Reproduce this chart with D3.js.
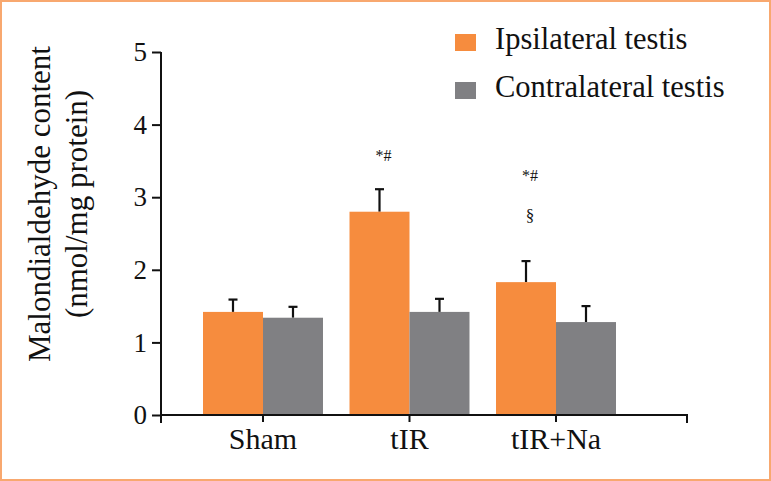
<!DOCTYPE html>
<html><head><meta charset="utf-8">
<script src="https://cdn.jsdelivr.net/npm/d3@7"></script>
<style>
html,body{margin:0;padding:0;background:#fff;}
svg{display:block;}
text{font-family:"Liberation Serif","Times New Roman",serif;fill:#111;}
</style></head>
<body>
<svg id="chart" width="771" height="481"></svg>
<script>
const categories = ["Sham", "tIR", "tIR+Na"];
const seriesNames = ["Ipsilateral testis", "Contralateral testis"];
const ipsilateral = [1.42, 2.80, 1.83];
const ipsilateralErr = [0.17, 0.31, 0.29];
const contralateral = [1.34, 1.42, 1.28];
const contralateralErr = [0.15, 0.18, 0.22];
const yTicks = [0, 1, 2, 3, 4, 5];
const annotations = [
  {cat: "tIR", series: 0, label: "*#", y: 3.55},
  {cat: "tIR+Na", series: 0, label: "*#", y: 3.28},
  {cat: "tIR+Na", series: 0, label: "§", y: 2.72}
];
const colors = ["#F68C3E", "#808083"];

const svg = d3.select("#chart");
// border
svg.append("rect").attr("x",1).attr("y",1).attr("width",769).attr("height",479)
  .attr("fill","#fff").attr("stroke","#F8A86F").attr("stroke-width",2);

const y = d3.scaleLinear().domain([0,5]).range([415,52]);
const x = d3.scaleBand().domain(categories).range([203,616]).paddingInner(0.181).paddingOuter(0);
const xs = d3.scaleBand().domain(seriesNames).range([0, x.bandwidth()]);

const data = categories.map((c,i)=>({cat:c, vals:[
  {s:seriesNames[0], v:ipsilateral[i], e:ipsilateralErr[i], k:0},
  {s:seriesNames[1], v:contralateral[i], e:contralateralErr[i], k:1}
]}));

const g = svg.append("g");
const groups = g.selectAll(".grp").data(data).join("g").attr("transform",d=>`translate(${x(d.cat)},0)`);
// error bars
groups.selectAll(".err").data(d=>d.vals).join("g").each(function(d){
  const cx = xs(d.s)+xs.bandwidth()/2;
  const sel = d3.select(this);
  sel.append("line").attr("x1",cx).attr("x2",cx).attr("y1",y(d.v)).attr("y2",y(d.v+d.e))
    .attr("stroke","#111").attr("stroke-width",2.2);
  sel.append("line").attr("x1",cx-4.5).attr("x2",cx+4.5).attr("y1",y(d.v+d.e)).attr("y2",y(d.v+d.e))
    .attr("stroke","#111").attr("stroke-width",2.2);
});
groups.selectAll("rect").data(d=>d.vals).join("rect")
  .attr("x",d=>xs(d.s)).attr("width",xs.bandwidth())
  .attr("y",d=>y(d.v)).attr("height",d=>y(0)-y(d.v))
  .attr("fill",d=>colors[d.k]);

// annotations
g.selectAll(".ann").data(annotations).join("text")
  .attr("x",d=>x(d.cat)+xs(seriesNames[d.series])+xs.bandwidth()/2+4)
  .attr("y",d=>y(d.y))
  .attr("text-anchor","middle").attr("dominant-baseline","middle")
  .attr("font-size",d=>d.label==="§"?17:16)
  .text(d=>d.label);

// y axis
const yAxis = svg.append("g").attr("transform","translate(161,0)")
  .call(d3.axisLeft(y).tickValues(yTicks).tickFormat(d3.format("d")).tickSize(9).tickPadding(5));
yAxis.select(".domain").remove();
yAxis.append("line").attr("x1",0).attr("x2",0).attr("y1",y(5)).attr("y2",y(0)+7).attr("stroke","#111").attr("stroke-width",2);
yAxis.selectAll(".tick line").attr("stroke","#111").attr("stroke-width",2);
yAxis.selectAll(".tick text").attr("font-size",27).attr("fill","#111").attr("font-family","Liberation Serif");

// x axis
const xAxis = svg.append("g").attr("transform",`translate(0,${y(0)})`)
  .call(d3.axisBottom(x).tickSize(7).tickPadding(6).tickSizeOuter(0));
xAxis.select(".domain").remove();
xAxis.append("path").attr("d","M161,8V0H687V8").attr("fill","none").attr("stroke","#111").attr("stroke-width",2);
xAxis.selectAll(".tick line").attr("stroke","#111").attr("stroke-width",2);
xAxis.selectAll(".tick text").attr("font-size",30).attr("fill","#111").attr("font-family","Liberation Serif")
  .attr("dy",null).attr("y",34);

// y title
svg.append("text").attr("transform","translate(50,204) rotate(-90)")
  .attr("text-anchor","middle").attr("font-size",31).text("Malondialdehyde content");
svg.append("text").attr("transform","translate(87,204) rotate(-90)")
  .attr("text-anchor","middle").attr("font-size",31).text("(nmol/mg protein)");

// legend
const leg = svg.append("g").attr("transform","translate(455,34)");
seriesNames.forEach((s,i)=>{
  const r = leg.append("g").attr("transform",`translate(0,${i*48})`);
  r.append("rect").attr("width",21).attr("height",17).attr("fill",colors[i]);
  r.append("text").attr("x",40).attr("y",15).attr("font-size",30.5).text(s);
});
</script>
</body></html>
